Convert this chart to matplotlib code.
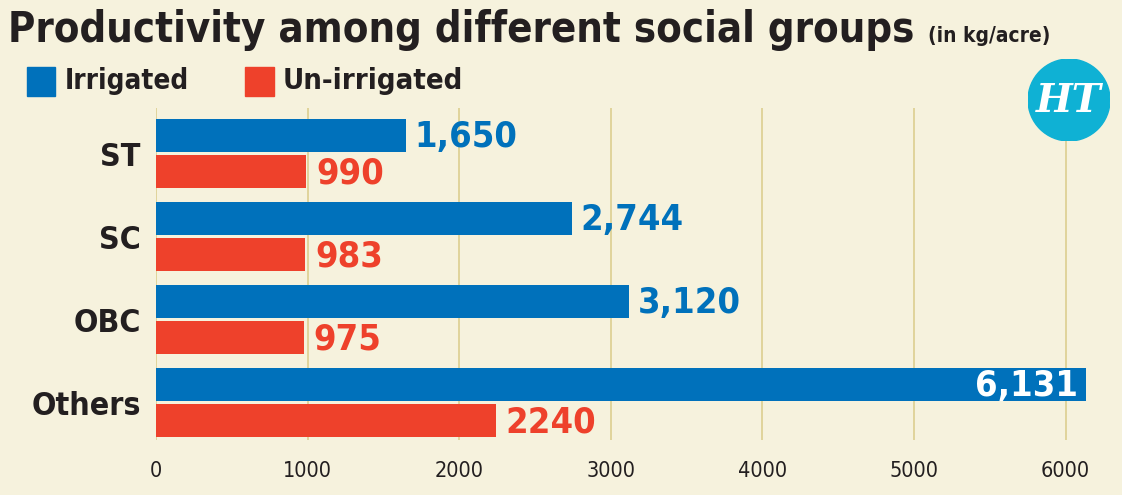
import matplotlib
matplotlib.use("Agg")
import matplotlib.pyplot as plt
from matplotlib.patches import Circle, Rectangle

categories = ["ST", "SC", "OBC", "Others"]
irrigated = [1650, 2744, 3120, 6131]
unirrigated = [990, 983, 975, 2240]
irr_labels = ["1,650", "2,744", "3,120", "6,131"]
unirr_labels = ["990", "983", "975", "2240"]
xticks = [0, 1000, 2000, 3000, 4000, 5000, 6000]

BG = "#f6f2dd"
BLUE = "#0071bb"
RED = "#ee412b"
GRID = "#dccf8f"
DARK = "#231f20"
FAM = "DejaVu Sans"
ST = "condensed"

fig = plt.figure(figsize=(11.22, 4.95), dpi=100, facecolor=BG)
W, H = 1122, 495

def fx(px):
    return px / W

def fy(py):
    return 1 - py / H

ax = fig.add_axes([fx(156), fy(440), fx(1096) - fx(156), fy(108) - fy(440)])
ax.set_facecolor(BG)
ax.set_xlim(0, 6200)
ax.set_ylim(3.45, -0.548)

ypos = list(range(len(categories)))
h = 0.40
off = 0.217
ax.barh([y - off for y in ypos], irrigated, height=h, color=BLUE, zorder=3)
ax.barh([y + off for y in ypos], unirrigated, height=h, color=RED, zorder=3)

LS = 26
for y, v, lab in zip(ypos, irrigated, irr_labels):
    if v > 5000:
        ax.text(v - 50, y - off + 0.02, lab, ha="right", va="center", color="white",
                fontsize=LS, fontweight="bold", family=FAM, fontstretch=ST, zorder=4)
    else:
        ax.text(v + 55, y - off + 0.02, lab, ha="left", va="center", color=BLUE,
                fontsize=LS, fontweight="bold", family=FAM, fontstretch=ST, zorder=4)
for y, v, lab in zip(ypos, unirrigated, unirr_labels):
    ax.text(v + 65, y + off + 0.02, lab, ha="left", va="center", color=RED,
            fontsize=LS, fontweight="bold", family=FAM, fontstretch=ST, zorder=4)

ax.set_yticks(ypos)
ax.set_yticklabels(categories, fontsize=23, fontweight="bold", color=DARK, family=FAM, fontstretch=ST)
ax.set_xticks(xticks)
ax.set_xticklabels([str(t) for t in xticks], fontsize=15.5, color=DARK, family=FAM, fontstretch=ST)
ax.tick_params(axis="both", length=0)
ax.tick_params(axis="y", pad=11)
ax.tick_params(axis="x", pad=15)
ax.xaxis.grid(True, color=GRID, linewidth=1.2, zorder=0)
for s in ax.spines.values():
    s.set_visible(False)

# Title
fig.text(fx(8), fy(30), "Productivity among different social groups", ha="left", va="center",
         fontsize=30, fontweight="bold", color=DARK, family=FAM, fontstretch=ST)
fig.text(fx(1050), fy(36), "(in kg/acre)", ha="right", va="center",
         fontsize=15, fontweight="bold", color=DARK, family=FAM, fontstretch=ST)

# Legend
fig.patches.append(Rectangle((fx(27), fy(96)), fx(28), fy(67) - fy(96), transform=fig.transFigure,
                             color=BLUE, figure=fig))
fig.text(fx(65), fy(81), "Irrigated", ha="left", va="center", fontsize=20, fontweight="bold",
         color=DARK, family=FAM, fontstretch=ST)
fig.patches.append(Rectangle((fx(245), fy(96)), fx(29), fy(67) - fy(96), transform=fig.transFigure,
                             color=RED, figure=fig))
fig.text(fx(283), fy(81), "Un-irrigated", ha="left", va="center", fontsize=21, fontweight="bold",
         color=DARK, family=FAM, fontstretch=ST)

# Logo
lax = fig.add_axes([fx(1028), fy(141), fx(82), fy(59) - fy(141)])
lax.set_xlim(-1, 1)
lax.set_ylim(-1, 1)
lax.set_aspect("equal")
lax.axis("off")
lax.add_patch(Circle((0, 0), 1, color="#0fb1d4"))
lax.text(0, -0.02, "HT", ha="center", va="center", color="white", fontsize=28,
         fontweight="bold", family="DejaVu Serif", fontstyle="italic")

fig.savefig("out.png", dpi=100, facecolor=BG)
